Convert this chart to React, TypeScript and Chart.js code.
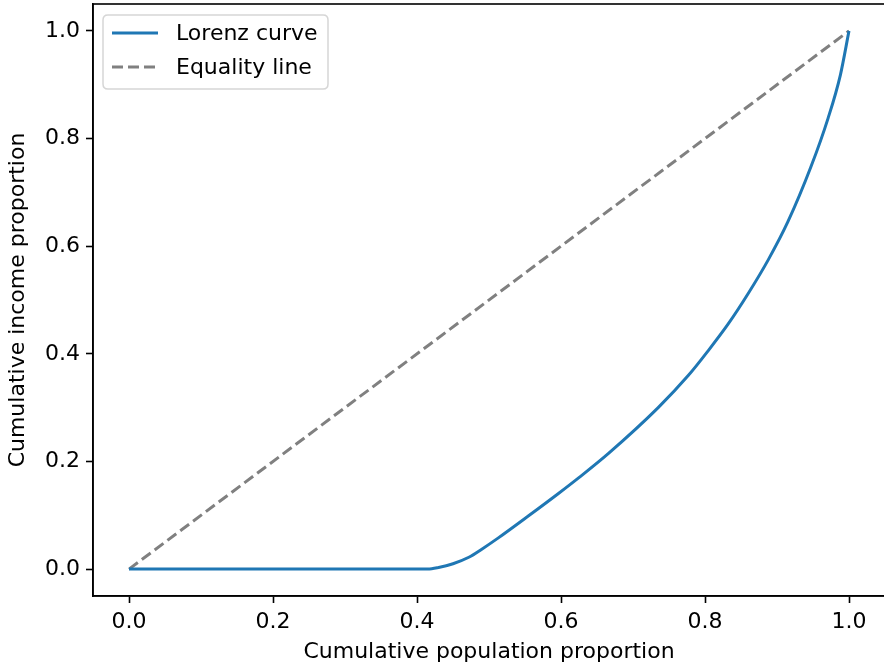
import React, { useEffect, useRef } from "react";
import { Chart, registerables } from "chart.js";

Chart.register(...registerables);

const lorenzX = [0, 0.415, 0.43, 0.45, 0.472, 0.49, 0.513, 0.555, 0.596, 0.624, 0.666, 0.735, 0.777, 0.804, 0.832, 0.86, 0.888, 0.915, 0.947, 0.971, 0.988, 1.0];
const lorenzY = [0, 0, 0.003, 0.01, 0.022, 0.037, 0.058, 0.099, 0.14, 0.169, 0.215, 0.3, 0.36, 0.405, 0.455, 0.512, 0.575, 0.645, 0.747, 0.838, 0.918, 1.0];
const equalityX = [0, 1];
const equalityY = [0, 1];
const tickValues = [0, 0.2, 0.4, 0.6, 0.8, 1.0];
const seriesLabels = ["Lorenz curve", "Equality line"];
const xTitle = "Cumulative population proportion";
const yTitle = "Cumulative income proportion";

const FONT = "DejaVu Sans";
const FS = 22;

const framePlugin = {
  id: "frame",
  afterDatasetsDraw(chart: any) {
    const { ctx, chartArea } = chart;
    ctx.save();
    ctx.strokeStyle = "#000";
    ctx.lineWidth = 1.6;
    ctx.strokeRect(chartArea.left, chartArea.top, chartArea.right - chartArea.left, chartArea.bottom - chartArea.top);
    ctx.restore();
  },
  afterDraw(chart: any) {
    const { ctx, chartArea } = chart;
    const ds = chart.data.datasets;
    const x0 = chartArea.left + 10;
    const y0 = chartArea.top + 11;
    const w = 225;
    const rowH = 34;
    const h = 18 + rowH * (ds.length - 1) + 22;
    ctx.save();
    const r = 5;
    ctx.beginPath();
    ctx.moveTo(x0 + r, y0);
    ctx.lineTo(x0 + w - r, y0);
    ctx.quadraticCurveTo(x0 + w, y0, x0 + w, y0 + r);
    ctx.lineTo(x0 + w, y0 + h - r);
    ctx.quadraticCurveTo(x0 + w, y0 + h, x0 + w - r, y0 + h);
    ctx.lineTo(x0 + r, y0 + h);
    ctx.quadraticCurveTo(x0, y0 + h, x0, y0 + h - r);
    ctx.lineTo(x0, y0 + r);
    ctx.quadraticCurveTo(x0, y0, x0 + r, y0);
    ctx.closePath();
    ctx.fillStyle = "rgba(255,255,255,0.8)";
    ctx.fill();
    ctx.strokeStyle = "rgba(204,204,204,0.8)";
    ctx.lineWidth = 1.5;
    ctx.stroke();
    ds.forEach((d: any, i: number) => {
      const cy = y0 + 18 + i * rowH;
      ctx.beginPath();
      ctx.strokeStyle = d.borderColor;
      ctx.lineWidth = d.borderWidth;
      ctx.setLineDash(d.borderDash || []);
      ctx.moveTo(x0 + 9, cy);
      ctx.lineTo(x0 + 55, cy);
      ctx.stroke();
      ctx.setLineDash([]);
      ctx.fillStyle = "#000";
      ctx.font = `${FS}px "${FONT}"`;
      ctx.textBaseline = "middle";
      ctx.textAlign = "left";
      ctx.fillText(d.label, x0 + 73, cy + 1);
    });
    ctx.restore();
  },
};

export default function App() {
  const ref = useRef<HTMLCanvasElement | null>(null);
  useEffect(() => {
    if (!ref.current) return;
    const axisCommon = (title: string, isX: boolean) => ({
      type: "linear" as const,
      min: -0.05,
      max: 1.05,
      afterBuildTicks: (scale: any) => {
        scale.ticks = tickValues.map((v) => ({ value: v }));
      },
      afterFit: (scale: any) => {
        if (isX) {
          scale.height = 71;
          scale.paddingLeft = 0;
          scale.paddingRight = 0;
        } else {
          scale.width = 93;
          scale.paddingTop = 0;
          scale.paddingBottom = 0;
        }
      },
      grid: {
        display: true,
        drawOnChartArea: false,
        drawTicks: true,
        tickLength: 7,
        tickWidth: 1.6,
        color: "#000",
      },
      border: { display: true, color: "#000", width: 1.6 },
      ticks: {
        padding: 6,
        color: "#000",
        font: { family: FONT, size: FS },
        maxRotation: 0,
        autoSkip: false,
        callback: (v: any) => Number(v).toFixed(1),
      },
      title: {
        display: true,
        text: title,
        color: "#000",
        font: { family: FONT, size: FS },
        padding: isX ? { top: 0, bottom: 2 } : { top: 5, bottom: 0 },
      },
    });
    const chart = new Chart(ref.current, {
      type: "scatter",
      data: {
        datasets: [
          {
            label: seriesLabels[0],
            data: lorenzX.map((x, i) => ({ x, y: lorenzY[i] })),
            showLine: true,
            borderColor: "#1f77b4",
            backgroundColor: "#1f77b4",
            borderWidth: 3,
            pointRadius: 0,
            cubicInterpolationMode: "monotone",
          },
          {
            label: seriesLabels[1],
            data: equalityX.map((x, i) => ({ x, y: equalityY[i] })),
            showLine: true,
            borderColor: "#808080",
            backgroundColor: "#808080",
            borderWidth: 3,
            borderDash: [11, 5],
            pointRadius: 0,
          },
        ],
      },
      options: {
        responsive: false,
        animation: false,
        layout: { padding: { left: 0, top: 4, right: 1, bottom: 0 } },
        plugins: { legend: { display: false }, tooltip: { enabled: false } },
        scales: {
          x: axisCommon(xTitle, true),
          y: axisCommon(yTitle, false),
        },
      },
      plugins: [framePlugin],
    } as any);
    return () => chart.destroy();
  }, []);
  return (
    <div style={{ position: "absolute", left: 0, top: 0, width: 884, height: 667, overflow: "hidden", background: "#fff" }}>
      <canvas ref={ref} width={886} height={667} style={{ width: 886, height: 667, display: "block" }} />
    </div>
  );
}
